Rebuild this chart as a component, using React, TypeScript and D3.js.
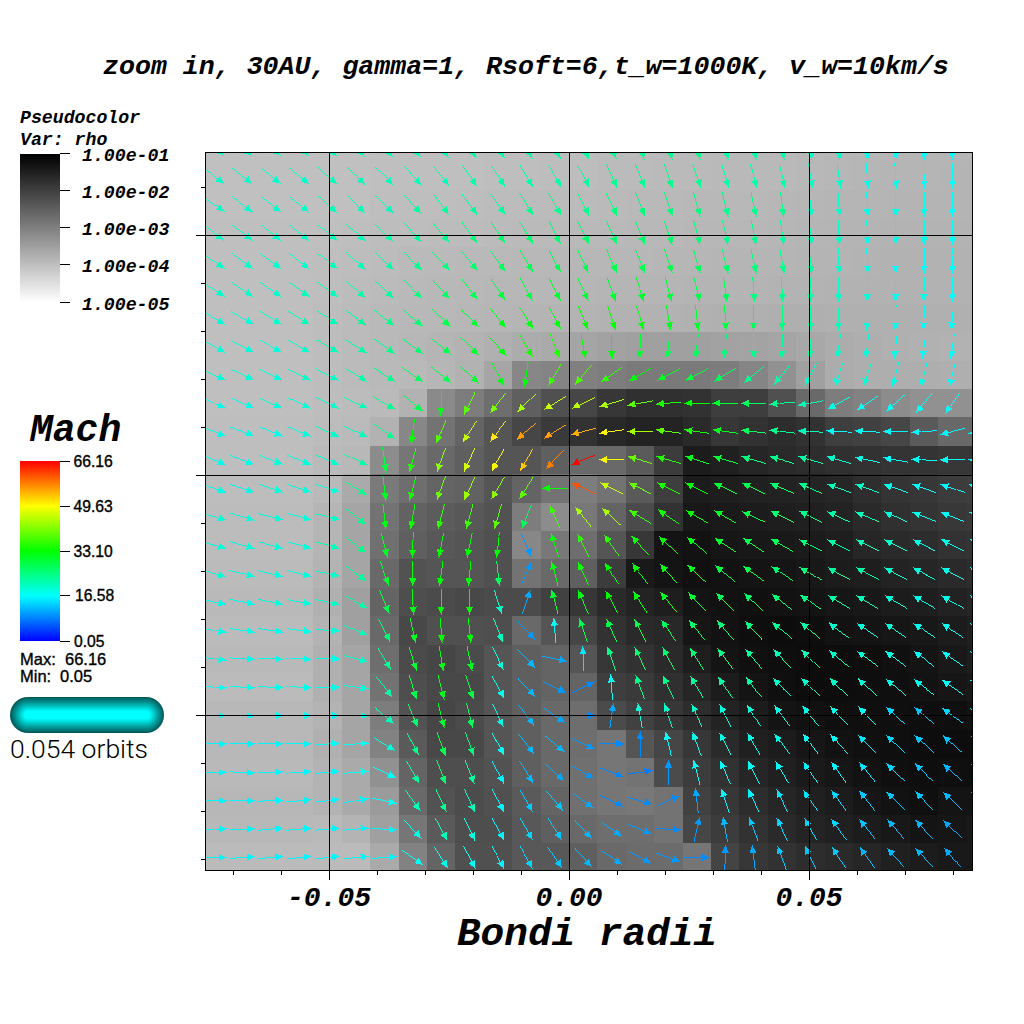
import React from "react";
import * as d3 from "d3";

const titleText = "zoom in, 30AU, gamma=1, Rsoft=6,t_w=1000K, v_w=10km/s";
const xLabelText = "Bondi radii";
const xMajorTicks = [-0.05, 0, 0.05];
const xMajorLabels = ["-0.05", "0.00", "0.05"];
const yMajorTicks = [0.05, 0, -0.05];
const xMinorTicks = [-0.07, -0.06, -0.04, -0.03, -0.02, -0.01, 0.01, 0.02, 0.03, 0.04, 0.06, 0.07, 0.08];
const yMinorTicks = [0.06, 0.04, 0.03, 0.02, 0.01, -0.01, -0.02, -0.03, -0.04, -0.06, -0.07, -0.08];
const rhoLegendLabels = ["1.00e-01", "1.00e-02", "1.00e-03", "1.00e-04", "1.00e-05"];
const machLegendValues = [66.16, 49.63, 33.1, 16.58, 0.05];
const machLegendLabels = ["66.16", "49.63", "33.10", "16.58", "0.05"];

// rho: 0 = top of the bar (1e-1), 255 = bottom (1e-5). One row per cell row.
const rhoLevel = [
  [192,192,192,192,192,192,191,191,191,191,190,190,189,189,187,187,186,186,185,185,185,184,183,182,182,181,181,181],
  [192,192,192,192,192,192,191,191,191,191,190,190,189,189,187,187,186,186,185,185,185,184,183,182,181,181,180,180],
  [192,192,192,192,192,192,190,190,190,189,188,188,187,187,186,185,185,184,184,184,183,182,181,181,180,180,180,180],
  [191,191,191,191,191,190,189,189,188,188,187,186,186,185,185,184,184,183,183,183,182,181,180,180,179,179,179,179],
  [191,191,191,191,190,189,188,186,186,185,185,184,184,183,183,183,182,182,181,181,181,180,180,179,178,178,178,178],
  [191,191,191,191,190,188,187,185,184,184,183,183,183,182,181,181,181,180,180,180,179,179,178,178,178,178,178,178],
  [191,191,191,191,189,187,185,184,184,183,182,181,180,179,178,178,178,177,176,176,175,175,176,176,176,176,176,176],
  [191,191,191,191,189,187,185,183,181,179,176,172,170,165,162,160,160,160,162,163,165,168,172,174,176,177,178,178],
  [191,191,191,191,189,187,185,185,182,178,165,135,132,128,125,122,122,122,125,133,145,160,172,174,174,174,175,175],
  [191,191,191,191,189,188,186,178,138,125,110,95,80,70,55,48,48,50,62,62,80,105,125,130,140,145,145,145],
  [190,190,190,190,188,186,178,135,115,100,85,70,58,50,40,35,35,42,55,50,45,50,62,65,70,90,105,105],
  [190,190,190,190,186,184,140,118,105,95,85,85,95,105,105,90,60,28,32,38,42,45,48,50,52,52,55,55],
  [189,189,189,189,185,170,122,110,100,98,85,100,115,125,115,90,62,28,30,32,34,36,38,46,52,55,60,62],
  [188,188,188,188,181,165,115,98,92,88,82,125,140,120,100,75,50,24,26,28,30,32,35,42,48,52,56,58],
  [188,188,188,188,181,165,112,95,88,85,80,135,120,110,85,55,20,18,22,24,25,27,30,38,42,45,50,52],
  [187,187,187,187,179,165,105,82,85,85,80,115,105,95,60,25,20,16,18,20,21,24,28,30,35,38,42,45],
  [185,185,185,185,176,160,100,78,75,72,75,75,65,55,42,35,30,20,18,16,18,20,22,24,28,30,34,38],
  [187,187,187,187,179,160,105,72,80,80,78,105,85,70,50,42,40,22,18,14,12,14,18,20,22,24,28,32],
  [185,185,185,185,176,165,110,75,70,75,85,95,100,85,55,50,42,30,20,16,14,12,13,14,16,20,25,30],
  [187,187,187,187,176,165,115,78,72,72,85,95,100,100,62,58,48,38,28,20,15,12,13,14,15,18,22,25],
  [184,184,184,184,179,165,125,82,70,75,85,95,105,110,75,65,55,45,35,28,20,17,15,15,15,14,15,18],
  [184,184,184,184,176,165,130,90,72,72,85,95,105,110,118,85,70,55,42,32,28,22,18,16,15,13,13,14],
  [185,185,185,185,179,170,145,100,78,78,82,95,105,112,118,115,75,60,50,38,32,26,22,18,15,14,15,14],
  [183,183,183,183,179,170,155,105,82,76,80,90,100,112,118,120,115,65,55,45,38,32,28,22,18,15,20,20],
  [184,184,184,184,185,180,160,118,90,78,78,88,95,105,110,110,115,70,60,50,42,36,32,28,24,20,22,24],
  [187,187,187,187,187,187,170,130,100,80,80,88,88,95,105,108,108,118,68,55,50,45,42,38,32,28,25,25],
];

// Velocity direction per cell, degrees clockwise from +x on screen.
const flowAngle = [
  [38,40,40,41,43,45,48,50,53,56,58,60,62,64,68,70,72,74,76,78,80,84,86,88,90,90,90,90],
  [37,39,39,40,41,43,46,48,51,55,56,59,60,62,66,68,71,71,74,75,76,80,82,85,86,88,90,90],
  [35,38,38,39,42,43,45,48,53,53,55,58,60,63,65,68,72,74,76,78,83,85,86,88,90,90,90,90],
  [37,37,38,39,38,42,45,47,50,53,56,58,62,64,66,69,72,75,77,79,82,85,87,88,89,90,90,90],
  [35,36,36,38,38,42,44,46,47,51,55,59,62,65,66,68,72,74,76,78,80,85,87,88,90,90,92,92],
  [33,33,35,36,37,41,43,45,48,52,56,60,62,65,70,72,75,76,82,86,88,90,90,90,91,92,92,92],
  [30,29,31,32,33,36,39,41,44,46,52,58,62,67,72,74,80,84,87,90,90,90,91,92,92,94,96,96],
  [28,28,30,30,30,33,36,37,39,45,49,59,68,80,88,91,96,97,96,90,92,94,98,97,97,98,98,98],
  [26,25,26,27,28,31,33,35,38,43,63,98,120,130,145,150,152,152,149,140,129,118,108,108,104,104,104,104],
  [24,23,24,24,26,25,30,40,92,116,128,135,148,155,163,170,175,180,180,180,175,170,152,146,139,130,125,125],
  [23,21,22,23,25,25,36,98,113,122,128,140,148,165,172,180,188,188,188,187,187,183,183,183,180,176,165,170],
  [22,21,21,22,22,26,82,105,110,115,118,120,133,158,180,196,196,198,196,196,196,196,196,192,190,184,180,180],
  [20,19,18,18,18,33,83,105,110,115,120,122,180,205,207,207,207,206,205,205,203,203,200,200,200,200,198,198],
  [15,16,15,15,14,39,83,100,105,106,106,112,246,231,222,212,214,210,210,205,206,207,205,203,203,202,202,202],
  [15,16,16,16,16,38,76,92,101,102,96,66,253,243,234,228,222,220,214,214,210,207,207,207,207,207,208,208],
  [15,13,14,14,12,36,71,90,98,96,84,295,255,245,238,232,228,223,219,216,214,210,208,208,208,208,208,208],
  [12,11,11,10,12,29,67,87,90,90,73,288,255,247,242,237,231,227,225,222,218,214,212,212,210,210,210,210],
  [9,8,8,8,4,23,63,78,86,84,68,47,266,252,246,243,237,232,230,227,219,219,217,215,214,214,213,213],
  [6,4,3,3,2,14,59,73,81,78,64,46,12,268,251,244,242,237,233,230,227,225,220,217,217,217,215,215],
  [4,3,3,3,0,8,52,73,76,72,61,47,27,335,266,250,245,240,235,233,224,225,224,222,220,217,215,215],
  [0,0,0,0,359,2,40,68,76,76,65,52,35,0,278,260,252,246,243,238,233,231,226,225,222,221,217,215],
  [0,0,0,0,356,356,32,62,70,70,62,52,40,24,0,270,257,250,243,240,233,233,228,225,223,222,221,220],
  [0,2,358,356,355,355,25,60,68,68,62,58,42,30,20,352,270,255,247,244,240,235,235,231,224,224,222,222],
  [0,0,358,355,354,350,12,54,65,66,62,60,50,36,26,15,335,264,252,245,244,235,235,232,225,227,223,223],
  [358,358,355,355,355,355,4,48,62,65,61,60,57,48,35,23,3,283,260,250,245,241,234,232,230,228,224,224],
  [0,356,354,354,354,354,356,36,58,62,61,60,55,48,33,28,21,0,272,263,250,245,238,234,229,228,230,230],
];

// Mach number per cell.
const machNumber = [
  [20,20,20,20,21,21,21,21,21,22,22,22,22,23,24,24,24,24,22,22,22,20,20,18,17,17,17,17],
  [20,20,20,20,21,21,21,21,21,22,22,22,22,23,24,24,24,24,22,22,22,20,20,18,18,17,17,17],
  [20,20,20,20,21,21,21,23,23,23,23,24,24,24,25,25,25,25,24,24,24,20,20,18,18,18,17,17],
  [20,20,20,20,21,21,22,23,24,25,26,26,26,26,26,26,26,25,24,24,23,21,20,18,18,18,17,17],
  [20,20,20,20,21,21,22,24,25,26,27,28,28,28,28,28,28,27,26,25,24,22,20,18,17,17,17,17],
  [20,20,20,21,21,22,23,25,27,28,29,29,30,30,30,30,29,28,27,25,24,22,20,19,18,18,17,17],
  [19,19,20,21,21,23,24,26,28,30,31,32,32,33,33,32,31,30,29,27,25,22,21,19,18,17,17,17],
  [19,19,19,20,21,22,24,26,28,30,32,34,35,33,32,30,28,27,25,24,23,22,20,19,18,17,17,17],
  [19,19,19,20,20,22,24,27,28,30,32,33,37,38,36,33,31,29,27,24,22,20,19,19,18,18,17,17],
  [18,18,19,19,20,21,24,28,32,39,41,44,46,45,44,39,35,33,30,27,24,21,18,17,17,17,17,17],
  [18,18,18,19,20,21,24,33,38,46,51,56,56,55,50,44,39,35,31,27,24,21,17,17,16,16,16,16],
  [18,18,19,19,20,22,29,35,42,47,50,53,58,66,50,40,35,31,30,25,24,22,20,18,17,17,17,16],
  [18,18,19,19,19,24,31,34,40,43,42,39,33,61,46,40,35,33,30,28,26,24,21,20,18,17,16,16],
  [19,19,19,19,20,24,32,34,36,37,39,27,37,44,44,37,34,33,31,28,26,24,22,21,19,18,17,16],
  [19,19,19,19,21,24,31,33,33,33,33,10,33,36,36,34,33,32,30,28,27,25,22,21,20,18,18,17],
  [19,19,19,19,20,23,30,32,33,33,27,10,32,34,33,33,32,31,29,28,26,25,23,22,20,19,18,17],
  [18,18,19,19,20,22,28,32,33,33,20,11,30,32,33,32,31,30,27,26,25,24,22,21,19,18,18,17],
  [18,18,18,18,19,21,26,31,33,33,21,10,17,28,28,28,27,26,25,24,23,22,20,19,19,18,17,17],
  [18,18,18,18,18,20,24,30,32,31,19,12,11,15,24,26,26,25,24,23,21,21,20,19,18,17,17,17],
  [17,18,18,18,18,19,22,28,31,29,18,12,10,9,17,24,24,23,22,22,20,20,20,19,18,18,17,16],
  [17,17,17,17,17,18,21,26,30,27,18,12,11,9,11,19,20,20,19,19,18,18,18,17,14,13,14,15],
  [16,16,16,16,17,17,19,24,28,25,17,12,12,10,9,9,17,18,18,18,18,17,17,15,14,13,13,12],
  [16,16,16,16,16,17,17,23,26,23,16,12,11,10,9,8,10,17,17,17,17,16,16,15,14,13,12,11],
  [16,16,16,16,16,16,17,21,24,21,16,13,13,11,9,9,9,11,16,16,15,15,14,13,13,13,12,11],
  [16,16,16,16,16,16,16,18,21,19,16,14,13,12,11,10,9,10,12,13,14,14,14,13,12,12,11,11],
  [16,16,16,16,16,16,16,17,18,17,16,14,13,12,11,10,10,9,10,11,13,13,13,12,12,12,11,11],
];

// Data-space grid of the mesh.
const firstColumnX = -0.07396;
const firstRowY = 0.06823;
const cellSize = 0.005917;

const plot = { left: 205.5, right: 972.5, top: 152.5, bottom: 870 };
const x = d3.scaleLinear().domain([-0.07573, 0.08406]).range([plot.left, plot.right]);
const y = d3.scaleLinear().domain([0.06719, -0.08229]).range([plot.top, plot.bottom]);
const rhoShade = d3.scaleLinear<string>().domain([0, 255]).range(["#000000", "#ffffff"]);
const machColor = d3
  .scaleLinear<string>()
  .domain([0.05, 16.58, 33.1, 49.63, 66.16])
  .range(["#0000ff", "#00ffff", "#00ff00", "#ffff00", "#ff0000"]);

const rhoLegendY = d3.scalePoint<string>().domain(rhoLegendLabels).range([153.5, 302]);
const machLegendY = d3.scaleLinear().domain([0.05, 66.16]).range([641, 461]);

const arrowLen = 24.5;
const headLen = 7.5;
const headHalf = 3.6;

const MONO = "'Liberation Mono', 'DejaVu Sans Mono', monospace";
const SANS = "'Liberation Sans', Arial, sans-serif";

// Aliased one-pixel shaft: a run of whole pixels stepped along the arrow.
function pixelShaft(x0: number, y0: number, x1: number, y1: number) {
  const steps = Math.max(Math.abs(x1 - x0), Math.abs(y1 - y0));
  const n = Math.max(1, Math.round(steps));
  let d = "";
  for (let k = 0; k <= n; k++) {
    const px = Math.floor(x0 + ((x1 - x0) * k) / n);
    const py = Math.floor(y0 + ((y1 - y0) * k) / n);
    d += `M${px} ${py}h1v1h-1z`;
  }
  return d;
}

function Arrow({ cx, cy, angle, color }: { cx: number; cy: number; angle: number; color: string }) {
  const a = (angle * Math.PI) / 180;
  const ux = Math.cos(a);
  const uy = Math.sin(a);
  const tx = cx + (ux * arrowLen) / 2;
  const ty = cy + (uy * arrowLen) / 2;
  const bx = tx - ux * headLen;
  const by = ty - uy * headLen;
  const pts = [
    [tx, ty],
    [bx - uy * headHalf, by + ux * headHalf],
    [bx + uy * headHalf, by - ux * headHalf],
  ];
  return (
    <g>
      <path d={pixelShaft(cx - (ux * arrowLen) / 2, cy - (uy * arrowLen) / 2, tx, ty)} fill={color} shapeRendering="crispEdges" />
      <polygon points={pts.map((p) => p.join(",")).join(" ")} fill={color} shapeRendering="crispEdges" />
    </g>
  );
}

export default function App() {
  const colX = (i: number) => x(firstColumnX + i * cellSize);
  const rowY = (j: number) => y(firstRowY - j * cellSize);
  const half = (x(cellSize) - x(0)) / 2;
  const machStops = d3.range(0, 1.0001, 0.05).map((t) => machColor(0.05 + t * 66.11));

  return (
    <svg width={1024} height={1024} style={{ position: "absolute", left: 0, top: 0, background: "#fff" }}>
      <defs>
        <clipPath id="plotClip">
          <rect x={plot.left} y={plot.top} width={plot.right - plot.left} height={plot.bottom - plot.top} />
        </clipPath>
        <linearGradient id="rhoBar" x1="0" y1="0" x2="0" y2="1">
          <stop offset="0" stopColor={rhoShade(0)} />
          <stop offset="1" stopColor={rhoShade(255)} />
        </linearGradient>
        <linearGradient id="machBar" x1="0" y1="1" x2="0" y2="0">
          {machStops.map((c, i) => (
            <stop key={i} offset={i / (machStops.length - 1)} stopColor={c} />
          ))}
        </linearGradient>
        <linearGradient id="pillV" x1="0" y1="0" x2="0" y2="1">
          <stop offset="0" stopColor="#005555" />
          <stop offset="0.18" stopColor="#00a0a0" />
          <stop offset="0.4" stopColor="#00ffff" />
          <stop offset="0.6" stopColor="#00ffff" />
          <stop offset="0.82" stopColor="#00a0a0" />
          <stop offset="1" stopColor="#005555" />
        </linearGradient>
        <radialGradient id="pillR">
          <stop offset="0" stopColor="#00ffff" />
          <stop offset="0.2" stopColor="#00ffff" />
          <stop offset="0.64" stopColor="#00a0a0" />
          <stop offset="1" stopColor="#005555" />
        </radialGradient>
      </defs>

      <text x={103} y={74} fontFamily={MONO} fontWeight="bold" fontStyle="italic" fontSize={26.6}>
        {titleText}
      </text>

      <g shapeRendering="crispEdges">
        <g clipPath="url(#plotClip)">
          {rhoLevel.map((row, j) =>
            row.map((v, i) => (
              <rect key={`${i}-${j}`} x={colX(i) - half} y={rowY(j) - half} width={half * 2 + 0.5} height={half * 2 + 0.5} fill={rhoShade(v)} />
            ))
          )}
        </g>
      </g>

      <g clipPath="url(#plotClip)">
        {flowAngle.map((row, j) =>
          row.map((a, i) => <Arrow key={`${i}-${j}`} cx={colX(i)} cy={rowY(j)} angle={a} color={machColor(machNumber[j][i])} />)
        )}
      </g>

      <g stroke="#000" strokeWidth={1} shapeRendering="crispEdges">
        {xMajorTicks.map((t) => (
          <line key={t} x1={x(t)} x2={x(t)} y1={plot.top} y2={plot.bottom + 10} />
        ))}
        {yMajorTicks.map((t) => (
          <line key={t} x1={plot.left - 10} x2={plot.right} y1={y(t)} y2={y(t)} />
        ))}
        {xMinorTicks.map((t) => (
          <line key={t} x1={x(t)} x2={x(t)} y1={plot.bottom} y2={plot.bottom + 5} />
        ))}
        {yMinorTicks.map((t) => (
          <line key={t} x1={plot.left - 5} x2={plot.left} y1={y(t)} y2={y(t)} />
        ))}
        <rect x={plot.left} y={plot.top} width={plot.right - plot.left} height={plot.bottom - plot.top} fill="none" />
      </g>

      {xMajorTicks.map((t, i) => (
        <text key={t} x={x(t)} y={906} textAnchor="middle" fontFamily={MONO} fontWeight="bold" fontStyle="italic" fontSize={28}>
          {xMajorLabels[i]}
        </text>
      ))}
      <text x={587} y={945} textAnchor="middle" fontFamily={MONO} fontWeight="bold" fontStyle="italic" fontSize={39.4}>
        {xLabelText}
      </text>

      <g fontFamily={MONO} fontWeight="bold" fontStyle="italic" fontSize={18.2}>
        <text x={20} y={123}>Pseudocolor</text>
        <text x={20} y={145}>Var: rho</text>
        {rhoLegendLabels.map((l) => (
          <text key={l} x={82} y={(rhoLegendY(l) as number) + 7.5}>{l}</text>
        ))}
      </g>
      <rect x={20} y={154} width={40} height={148} fill="url(#rhoBar)" />
      <g stroke="#000" shapeRendering="crispEdges">
        {rhoLegendLabels.map((l) => (
          <line key={l} x1={60} x2={70} y1={rhoLegendY(l)} y2={rhoLegendY(l)} />
        ))}
      </g>

      <text x={30} y={441} fontFamily={MONO} fontWeight="bold" fontStyle="italic" fontSize={38}>Mach</text>
      <rect x={20} y={461} width={40} height={180} fill="url(#machBar)" />
      <g stroke="#000" shapeRendering="crispEdges">
        {machLegendValues.map((v) => (
          <line key={v} x1={60} x2={70} y1={machLegendY(v)} y2={machLegendY(v)} />
        ))}
      </g>
      <g fontFamily={SANS} fontSize={15.7} stroke="#000" strokeWidth={0.35}>
        {machLegendValues.map((v, i) => (
          <text key={v} x={i === 4 ? 74 : i === 3 ? 75 : 73.5} y={machLegendY(v) + 5.5}>{machLegendLabels[i]}</text>
        ))}
      </g>
      <g fontFamily={SANS} fontSize={16.5} stroke="#000" strokeWidth={0.35}>
        <text x={20} y={665}>Max:</text>
        <text x={65} y={665}>66.16</text>
        <text x={20} y={682}>Min:</text>
        <text x={60} y={682}>0.05</text>
      </g>

      <circle cx={28} cy={715} r={18} fill="url(#pillR)" />
      <circle cx={146} cy={715} r={18} fill="url(#pillR)" />
      <rect x={28} y={697} width={118} height={36} fill="url(#pillV)" />
      <text x={10} y={758} fontFamily="'Roboto', 'Liberation Sans', sans-serif" fontWeight={300} fontSize={26.5}>0.054 orbits</text>
    </svg>
  );
}
